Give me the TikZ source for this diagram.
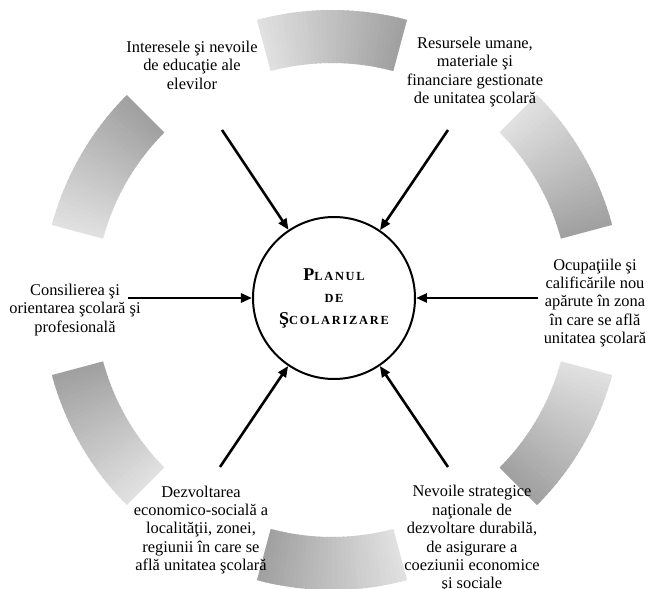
\documentclass[tikz,border=0pt]{standalone}
\usepackage{fontspec}
\setmainfont{Liberation Serif}
\usetikzlibrary{arrows.meta}
\definecolor{seglight}{gray}{0.88}
\definecolor{segdark}{gray}{0.63}
% small letters for the title in the circle
\newcommand{\smcaps}[1]{{\fontsize{12.4}{22}\selectfont #1}}

\begin{document}
\begin{tikzpicture}[x=1pt,y=1pt,
    lbl/.style={align=center, inner sep=0pt, font=\fontsize{16.4}{18.4}\selectfont},
    feed/.style={line width=2.6pt, -{Triangle[length=11pt,width=9pt]}}]
  \clip (-332,-291) rectangle (317,298);
  % shaded ring, six pieces, light to dark going clockwise
  \foreach \a in {90,30,-30,-90,-150,150} {
    \foreach \k in {0,...,29} {
      \pgfmathsetmacro\p{\k*100/29}
      \pgfmathsetmacro\hi{\a+15-\k}
      \pgfmathsetmacro\lo{max(\a+14-\k-0.4,\a-15)}
      \fill[segdark!\p!seglight]
        ([shift={(0,-2)}]\lo:237) arc[start angle=\lo, end angle=\hi, radius=237pt]
        -- ([shift={(0,-2)}]\hi:290) arc[start angle=\hi, end angle=\lo, radius=290pt]
        -- cycle;
    }
  }

  % the plan in the middle
  \node[draw, circle, line width=2pt, minimum size=162pt, inner sep=0pt, align=center,
        font=\bfseries\fontsize{18}{22}\selectfont\addfontfeatures{LetterSpace=14}] (plan) at (2,0)
        {P\smcaps{LANUL}\\\smcaps{DE}\\Ş\smcaps{COLARIZARE}};

  % the factors round it
  \node[lbl] (elevi) at (-140,233) {Interesele şi nevoile\\de educaţie ale\\elevilor};
  \node[lbl] (resurse) at (143,226) {Resursele umane,\\materiale şi\\financiare gestionate\\de unitatea şcolară};
  \node[lbl] (ocupatii) at (263,-5) {Ocupaţiile şi\\calificările nou\\apărute în zona\\în care se află\\unitatea şcolară};
  \node[lbl] (consiliere) at (-257,-12) {Consilierea şi\\orientarea şcolară şi\\profesională};
  \node[lbl] (dezvoltare) at (-131,-232) {Dezvoltarea\\economico-socială a\\localităţii, zonei,\\regiunii în care se\\află unitatea şcolară};
  \node[lbl] (nevoi) at (140,-241) {Nevoile strategice\\naţionale de\\dezvoltare durabilă,\\de asigurare a\\coeziunii economice\\şi sociale};

  % arrows into the plan
  \coordinate (a1) at (-110,168);
  \coordinate (a2) at (116,168);
  \coordinate (a3) at (206,0);
  \coordinate (a4) at (-204,0);
  \coordinate (a5) at (-112,-169);
  \coordinate (a6) at (116,-169);
  \foreach \c in {a1,a2,a3,a4,a5,a6}
    \draw[feed] (\c) -- (plan);
\end{tikzpicture}
\end{document}
